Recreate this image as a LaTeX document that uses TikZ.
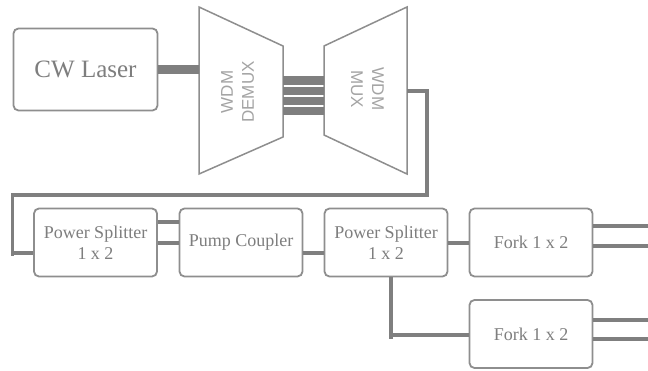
\documentclass[tikz,border=0pt]{standalone}
\usepackage{fontspec}
\setmainfont{Liberation Serif}
\newfontfamily\boxfont{Liberation Serif}
\newfontfamily\wdmfont{Liberation Sans}
\definecolor{boxgray}{HTML}{8E8E8E}
\definecolor{linegray}{HTML}{7F7F7F}
\definecolor{txtgray}{HTML}{7E7E7E}
\definecolor{wdmgray}{HTML}{A4A4A4}
\begin{document}
\begin{tikzpicture}[x=1pt,y=-1pt,
  blk/.style={draw=boxgray, line width=1.8pt, rounded corners=5pt,
    minimum width=123pt, minimum height=68pt, inner sep=0pt, align=center,
    text=txtgray, font=\boxfont\fontsize{18}{21}\selectfont},
  conn/.style={draw=linegray, line width=4pt},
  trap/.style={draw=boxgray, line width=1.5pt, line join=miter},
  wdm/.style={text=wdmgray, align=center, inner sep=0pt,
    font=\wdmfont\fontsize{17}{21}\selectfont}]
\useasboundingbox (0,0) rectangle (648,371);
\fill[white] (0,0) rectangle (648,371);

% top row
\node[blk, minimum width=144pt, minimum height=82pt,
  font=\boxfont\fontsize{25}{28}\selectfont] (laser) at (85.5,69.5) {CW Laser};

\draw[trap] (199,7) -- (283,46) -- (283,137) -- (199,174) -- cycle;
\draw[trap] (324,46) -- (407,7) -- (407,174) -- (324,135) -- cycle;
\coordinate (demuxin) at (199,69.5);
\coordinate (demuxout) at (283,96);
\coordinate (muxin) at (324,96);
\coordinate (muxout) at (407,91);
\node[wdm, rotate=90] (demuxlbl) at (237.5,92) {WDM\\DEMUX};
\node[wdm, rotate=-90] (muxlbl) at (367.5,89) {WDM\\MUX};

\draw[linegray, line width=9pt] (laser.east |- demuxin) -- (demuxin);
\foreach \dy in {-15,-5,5,15.5}
  \draw[linegray, line width=8.3pt] ([yshift=\dy]demuxout) -- ([yshift=\dy]muxin);

% bottom row
\node[blk] (ps1) at (95.5,242.5) {Power Splitter\\1 x 2};
\node[blk] (pump) at (241,242.5) {Pump Coupler};
\node[blk] (ps2) at (386,242.5) {Power Splitter\\1 x 2};
\node[blk] (fork1) at (531,242.5) {Fork 1 x 2};
\node[blk] (fork2) at (531,334) {Fork 1 x 2};

% return path from MUX
\coordinate (r1) at (427,195);
\coordinate (r2) at (12.5,195);
\coordinate (r3) at (12.5,256);
\coordinate (r4) at (12.5,253);
\draw[conn, line width=3.6pt] (muxout) -| (r1) -- (r2) -- (r3);
\draw[conn, line width=3.6pt] (r4) -- (r4 -| ps1.west);

% connectors
\draw[conn] ([yshift=-0.5pt]ps1.east) -- ([yshift=-0.5pt]pump.west);
\draw[conn] ([yshift=20.5pt]ps1.east) -- ([yshift=20.5pt]pump.west);
\draw[conn] ([yshift=-10.5pt]pump.east) -- ([yshift=-10.5pt]ps2.west);
\draw[conn] ([yshift=-0.5pt]ps2.east) -- ([yshift=-0.5pt]fork1.west);

\coordinate (t1) at (391,339);
\draw[conn] (ps2.south -| t1) -- (t1);
\draw[conn] ([yshift=-1pt]t1 |- fork2.west) -- ([yshift=-1pt]fork2.west);

% outputs
\coordinate (o1) at (648,226);
\coordinate (o2) at (648,246);
\coordinate (o3) at (648,320);
\coordinate (o4) at (648,339);
\draw[conn] (o1 -| fork1.east) -- (o1);
\draw[conn] (o2 -| fork1.east) -- (o2);
\draw[conn] (o3 -| fork2.east) -- (o3);
\draw[conn] (o4 -| fork2.east) -- (o4);
\end{tikzpicture}
\end{document}
